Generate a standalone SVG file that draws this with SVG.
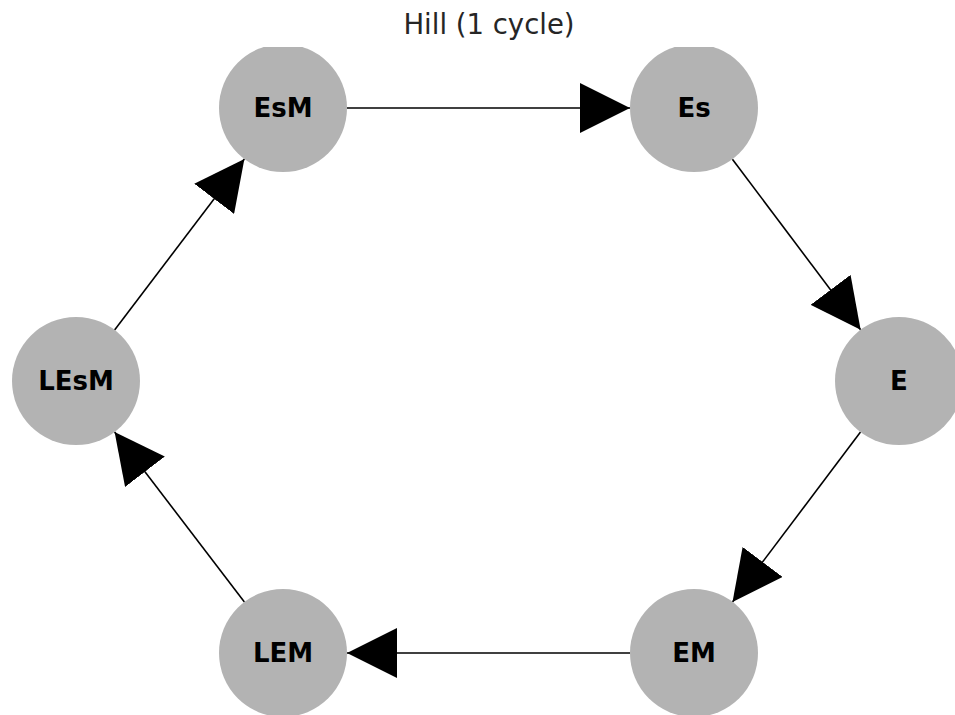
<svg xmlns="http://www.w3.org/2000/svg" width="955" height="715" viewBox="0 0 955 715">
<style>
.node{fill:#b3b3b3}
.lbl{font-family:"DejaVu Sans",sans-serif;font-weight:bold;font-size:26px;fill:#000;text-anchor:middle;dominant-baseline:central}
.title{font-family:"DejaVu Sans",sans-serif;font-size:27.5px;fill:#262626;text-anchor:middle}
.edge{stroke:#000;stroke-width:1.6;fill:none}
</style>
<defs>
<clipPath id="ax"><rect x="0" y="47" width="955" height="668"/></clipPath>
<marker id="arr" markerUnits="userSpaceOnUse" markerWidth="50" markerHeight="50" viewBox="0 0 46 46" refX="46" refY="23" orient="auto">
<path d="M0,0 L46,23 L0,46 Z" fill="#000"/>
</marker>
</defs>
<rect width="955" height="715" fill="#fff"/>
<text class="title" x="489" y="34">Hill (1 cycle)</text>
<g clip-path="url(#ax)">
<g id="connectors">
<line class="edge" x1="347" y1="108" x2="630" y2="108" marker-end="url(#arr)"/>
<line class="edge" x1="732.4" y1="159.2" x2="860.6" y2="329.8" marker-end="url(#arr)"/>
<line class="edge" x1="860.5" y1="432.1" x2="732.5" y2="601.9" marker-end="url(#arr)"/>
<line class="edge" x1="630" y1="653" x2="347" y2="653" marker-end="url(#arr)"/>
<line class="edge" x1="244.4" y1="602" x2="114.6" y2="432" marker-end="url(#arr)"/>
<line class="edge" x1="114.6" y1="330" x2="244.4" y2="159" marker-end="url(#arr)"/>
</g>
<g id="EsM"><circle class="node" cx="283" cy="108" r="64"/><text class="lbl" x="283" y="108">EsM</text></g>
<g id="Es"><circle class="node" cx="694" cy="108" r="64"/><text class="lbl" x="694" y="108">Es</text></g>
<g id="E"><circle class="node" cx="899" cy="381" r="64"/><text class="lbl" x="899" y="381">E</text></g>
<g id="EM"><circle class="node" cx="694" cy="653" r="64"/><text class="lbl" x="694" y="653">EM</text></g>
<g id="LEM"><circle class="node" cx="283" cy="653" r="64"/><text class="lbl" x="283" y="653">LEM</text></g>
<g id="LEsM"><circle class="node" cx="76" cy="381" r="64"/><text class="lbl" x="76" y="381">LEsM</text></g>
</g>
</svg>
